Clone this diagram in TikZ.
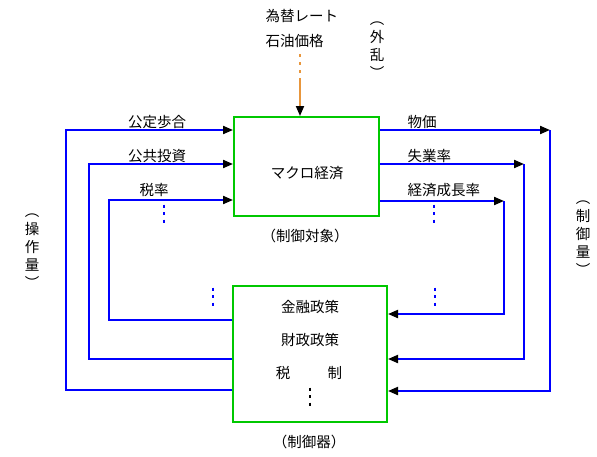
\documentclass[tikz,border=0pt]{standalone}
\usepackage{fontspec}
\setmainfont{Noto Sans CJK JP}
\usetikzlibrary{arrows.meta}
\definecolor{boxgreen}{RGB}{0,200,0}
\definecolor{sigblue}{RGB}{0,0,255}
\definecolor{distorange}{RGB}{232,150,60}

\begin{document}
\begin{tikzpicture}[x=1pt,y=-1pt,
    font=\fontsize{14.5}{18}\selectfont,
    block/.style={draw=boxgreen,line width=2pt,inner sep=0pt},
    sig/.style={draw=sigblue,line width=2pt},
    tip/.style={-{Triangle[length=10pt,width=8pt,black]}},
    vdots/.style={draw=sigblue,line width=2.2pt,dash pattern=on 3pt off 4.5pt},
    vtext/.style={align=center,inner sep=0pt}]
    \useasboundingbox (0,0) rectangle (597,456);
    \node[block,minimum width=145pt,minimum height=99pt] (plant) at (306.5,166.5) {};
    \node[block,minimum width=154pt,minimum height=136pt] (ctrl) at (310,354) {};
    \node (econ) at (307,173) {マクロ経済};
    \node (plantlbl) at (305,236) {（制御対象）};
    \node (mon) at (310,307) {金融政策};
    \node (fis) at (310,340) {財政政策};
    \node (tax) at (309,373) {税\hspace{37.5pt}制};
    \node (ctrllbl) at (309,442) {（制御器）};
    % disturbance
    \node[anchor=west] (fx) at (262,16) {為替レート};
    \node[anchor=west] (oil) at (262,41) {石油価格};
    \node[vtext] (dist) at (377,50) {︵\\外\\乱\\︶};
    \coordinate (dsrc) at (300,79);
    \draw[distorange,line width=1.8pt,dash pattern=on 3pt off 5pt] (300,54) -- (dsrc);
    \draw[distorange,line width=1.8pt,tip] (dsrc) -- (dsrc |- plant.north);
    % manipulated variables
    \coordinate (opA1) at (66,390);
    \coordinate (opA2) at (66,130);
    \coordinate (opB1) at (89,359);
    \coordinate (opB2) at (89,164);
    \coordinate (opC1) at (109,320);
    \coordinate (opC2) at (109,200);
    \draw[sig,tip] (ctrl.west |- opA1) -- (opA1) -- (opA2) -- (plant.west |- opA2);
    \draw[sig,tip] (ctrl.west |- opB1) -- (opB1) -- (opB2) -- (plant.west |- opB2);
    \draw[sig,tip] (ctrl.west |- opC1) -- (opC1) -- (opC2) -- (plant.west |- opC2);
    \node (rate) at (157,122) {公定歩合};
    \node (inv) at (157,156) {公共投資};
    \node (taxr) at (154,190) {税率};
    \node[vtext] (oplbl) at (32,251) {︵\\操\\作\\量\\︶};
    % controlled variables
    \coordinate (mvA1) at (550,130);
    \coordinate (mvA2) at (550,391);
    \coordinate (mvB1) at (524,164);
    \coordinate (mvB2) at (524,359);
    \coordinate (mvC1) at (504,201);
    \coordinate (mvC2) at (504,314);
    \draw[sig,tip] (plant.east |- mvA1) -- (mvA1);
    \draw[sig,tip] (mvA1) -- (mvA2) -- (ctrl.east |- mvA2);
    \draw[sig,tip] (plant.east |- mvB1) -- (mvB1);
    \draw[sig,tip] (mvB1) -- (mvB2) -- (ctrl.east |- mvB2);
    \draw[sig,tip] (plant.east |- mvC1) -- (mvC1);
    \draw[sig,tip] (mvC1) -- (mvC2) -- (ctrl.east |- mvC2);
    \node[anchor=west] (price) at (404,122) {物価};
    \node[anchor=west] (unemp) at (404,156) {失業率};
    \node[anchor=west] (growth) at (404,190) {経済成長率};
    \node[vtext] (mvlbl) at (583,238) {︵\\制\\御\\量\\︶};
    % omitted items
    \draw[vdots] (164,204.5) -- (164,224);
    \draw[vdots] (434,204.5) -- (434,224);
    \draw[vdots] (213,287.5) -- (213,307);
    \draw[vdots] (435,287.5) -- (435,307);
    \draw[vdots,draw=black,line width=2pt] (310,387.5) -- (310,407);
\end{tikzpicture}
\end{document}
